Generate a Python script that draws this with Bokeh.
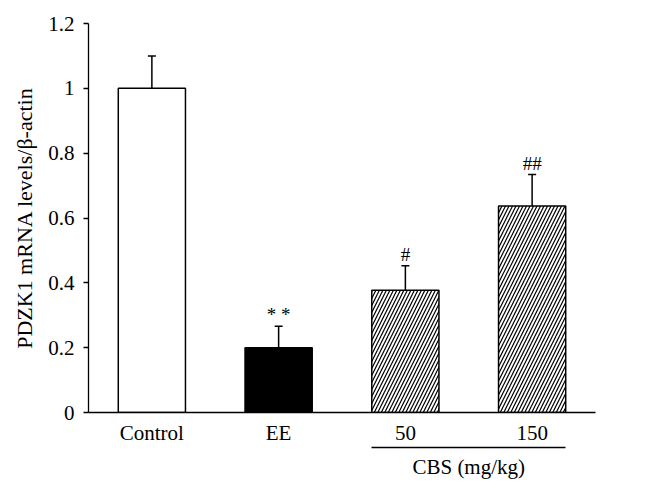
from bokeh.plotting import figure
from bokeh.models import (Range1d, FixedTicker, LinearAxis, ColumnDataSource)
from bokeh.embed import file_html
from bokeh.resources import INLINE
from bokeh.core.properties import value

# ---- data ----
groups = ["Control", "EE", "50", "150"]
means = [1.00, 0.20, 0.377, 0.637]
errors = [0.10, 0.066, 0.076, 0.097]
marks = ["", "* *", "#", "##"]
y_ticks = [0, 0.2, 0.4, 0.6, 0.8, 1, 1.2]
y_tick_labels = ["0", "0.2", "0.4", "0.6", "0.8", "1", "1.2"]
group_title = "CBS (mg/kg)"
y_title = "PDZK1 mRNA levels/\u03b2-actin"

FONT = "Liberation Serif"
BAR_W = 0.53

xpos = [i + 0.5 for i in range(len(groups))]

p = figure(width=640, height=481, x_range=Range1d(0, len(groups)),
           y_range=Range1d(0, 1.2), output_backend="svg", toolbar_location=None,
           min_border_left=88, min_border_right=45, min_border_top=23,
           min_border_bottom=10)
p.outline_line_color = None
p.xgrid.visible = False
p.ygrid.visible = False
p.background_fill_color = "white"

# bars
fills = ["white", "black", "white", "white"]
hatches = [" ", " ", "/", "/"]
src = ColumnDataSource(dict(x=xpos, top=means, fill=fills, hatch=hatches,
                            err_top=[m + e for m, e in zip(means, errors)],
                            mark=marks))
p.vbar(x="x", top="top", width=BAR_W, source=src, fill_color="fill",
       line_color="black", line_width=1.5, hatch_pattern="hatch",
       hatch_color="black", hatch_scale=7, hatch_weight=1.2)

# error bars (upper only)
p.segment(x0="x", y0="top", x1="x", y1="err_top", source=src,
          line_color="black", line_width=1.5)
p.scatter(x="x", y="err_top", source=src, marker="dash", size=8,
          line_color="black", line_width=1.5)

# significance marks
p.text(x="x", y="err_top", text="mark", source=src, text_align="center",
       text_baseline="bottom", y_offset=-1, text_font=value(FONT),
       text_font_size="19px", text_color="black")

# axes
yax = p.yaxis[0]
yax.ticker = FixedTicker(ticks=y_ticks)
yax.major_label_overrides = {t: l for t, l in zip(y_ticks, y_tick_labels)}
yax.minor_tick_line_color = None
yax.major_tick_in = 0
yax.major_tick_out = 5
yax.major_label_standoff = 9
yax.axis_line_width = 1.3
yax.major_tick_line_width = 1.3
yax.major_label_text_font = FONT
yax.major_label_text_font_size = "21px"
yax.major_label_text_color = "black"
yax.axis_label = y_title
yax.axis_label_text_font = FONT
yax.axis_label_text_font_size = "22px"
yax.axis_label_text_font_style = "normal"
yax.axis_label_standoff = 8
yax.axis_label_text_color = "black"

xax = p.xaxis[0]
xax.ticker = FixedTicker(ticks=xpos)
xax.major_label_overrides = {x: g for x, g in zip(xpos, groups)}
xax.major_tick_line_color = None
xax.minor_tick_line_color = None
xax.major_tick_out = 0
xax.major_tick_in = 0
xax.major_label_standoff = 8
xax.axis_line_width = 1.3
xax.major_label_text_font = FONT
xax.major_label_text_font_size = "21px"
xax.major_label_text_color = "black"

# group bracket under CBS doses: a second bounded axis below
x_start = xpos[groups.index("50")] - BAR_W / 2
x_end = xpos[groups.index("150")] + BAR_W / 2
x_mid = (x_start + x_end) / 2
gax = LinearAxis(bounds=(x_start, x_end), ticker=FixedTicker(ticks=[x_mid]),
                 major_label_overrides={x_mid: group_title})
gax.major_tick_line_color = None
gax.minor_tick_line_color = None
gax.major_tick_in = 0
gax.major_tick_out = 0
gax.major_label_standoff = 7
gax.axis_line_width = 1.5
gax.axis_line_color = "black"
gax.major_label_text_font = FONT
gax.major_label_text_font_size = "21px"
gax.major_label_text_color = "black"
p.add_layout(gax, "below")

open("out.html", "w").write(file_html(p, INLINE))
